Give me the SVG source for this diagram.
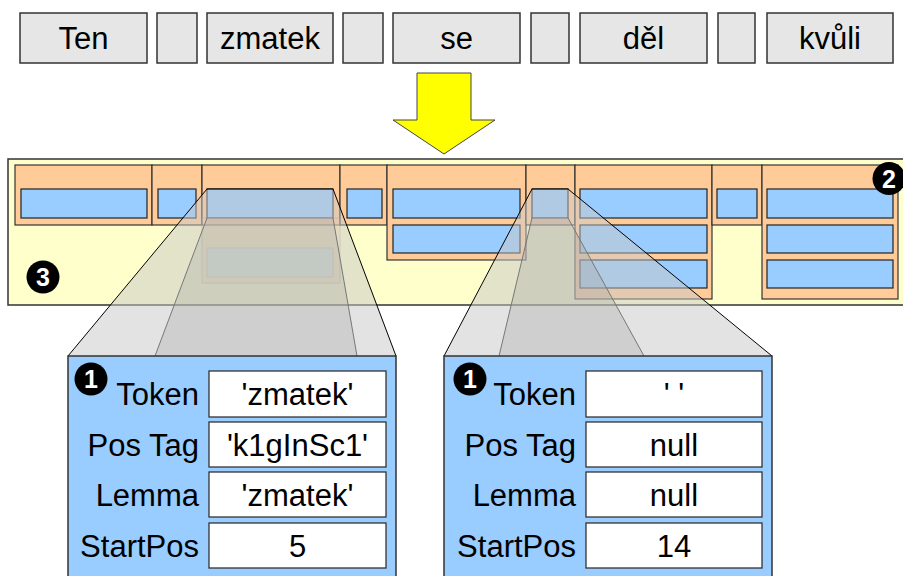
<svg xmlns="http://www.w3.org/2000/svg" width="903" height="576" viewBox="0 0 903 576">
<style>
.word{fill:#e6e6e6;stroke:#333;stroke-width:1.5}
.t{font-family:"Liberation Sans",Arial,sans-serif;font-size:31px;fill:#000}
.c{text-anchor:middle}
.r{text-anchor:end}
.band{fill:#ffffcc;stroke:#333;stroke-width:1.5}
.col{fill:#ffcc99;stroke:#333;stroke-width:1.2}
.blue{fill:#99ccff;stroke:#222;stroke-width:1.2}
.panel{fill:#99ccff;stroke:#333;stroke-width:1.5}
.val{fill:#fff;stroke:#333;stroke-width:1.3}
.badge{fill:#000}
.bt{font-family:"Liberation Sans",Arial,sans-serif;font-size:25px;font-weight:bold;fill:#fff;text-anchor:middle}
.outer{fill:#c8c8c8;fill-opacity:0.5;stroke:none}
.inner{fill:#aaaaaa;fill-opacity:0.35;stroke:none}
.oe{stroke:#000;stroke-width:1;fill:none}
.ie{stroke:#777;stroke-width:1;fill:none}
</style>

<g id="words">
  <g id="w-ten"><rect class="word" x="20" y="13" width="127" height="50"/><text class="t c" x="83.5" y="49">Ten</text></g>
  <g id="w-sp1"><rect class="word" x="157" y="13" width="40" height="50"/></g>
  <g id="w-zmatek"><rect class="word" x="207" y="13" width="126" height="50"/><text class="t c" x="270" y="49">zmatek</text></g>
  <g id="w-sp2"><rect class="word" x="343" y="13" width="40" height="50"/></g>
  <g id="w-se"><rect class="word" x="393" y="13" width="127" height="50"/><text class="t c" x="456.5" y="49">se</text></g>
  <g id="w-sp3"><rect class="word" x="531" y="13" width="38" height="50"/></g>
  <g id="w-del"><rect class="word" x="580" y="13" width="127" height="50"/><text class="t c" x="643.5" y="49">děl</text></g>
  <g id="w-sp4"><rect class="word" x="718" y="13" width="37" height="50"/></g>
  <g id="w-kvuli"><rect class="word" x="767" y="13" width="126" height="50"/><text class="t c" x="830" y="49">kvůli</text></g>
</g>

<g id="arrow">
  <polygon points="417,73 471,73 471,120 495,120 444,154 393,120 417,120" fill="#ffff00" stroke="#444" stroke-width="1"/>
</g>

<g id="band">
  <rect class="band" x="8" y="159" width="900" height="146"/>
  <g id="col-ten"><rect class="col" x="15" y="165" width="137" height="60"/><rect class="blue" x="21" y="189" width="126" height="29"/></g>
  <g id="col-sp1"><rect class="col" x="152" y="165" width="50" height="60"/><rect class="blue" x="158" y="189" width="38" height="29"/></g>
  <g id="col-zmatek"><rect class="col" x="202" y="165" width="138" height="60"/><rect class="blue" x="207" y="189" width="126" height="29"/></g>
  <g id="col-sp2"><rect class="col" x="340" y="165" width="47" height="60"/><rect class="blue" x="347" y="189" width="35" height="29"/></g>
  <g id="col-se"><rect class="col" x="387" y="165" width="139" height="95"/><rect class="blue" x="393" y="189" width="127" height="29"/><rect class="blue" x="393" y="225" width="127" height="28"/></g>
  <g id="col-sp3"><rect class="col" x="526" y="165" width="49" height="60"/><rect class="blue" x="532" y="189" width="36" height="29"/></g>
  <g id="col-del"><rect class="col" x="575" y="165" width="137" height="134"/><rect class="blue" x="580" y="189" width="127" height="29"/><rect class="blue" x="580" y="225" width="127" height="28"/><rect class="blue" x="580" y="260" width="127" height="28"/></g>
  <g id="col-sp4"><rect class="col" x="712" y="165" width="50" height="60"/><rect class="blue" x="717" y="189" width="40" height="29"/></g>
  <g id="col-kvuli"><rect class="col" x="762" y="165" width="136" height="134"/><rect class="blue" x="767" y="189" width="126" height="29"/><rect class="blue" x="767" y="225" width="126" height="28"/><rect class="blue" x="767" y="260" width="126" height="28"/></g>
  <g id="ghost" opacity="0.35"><rect x="202" y="218" width="138" height="65" fill="#ffcc99" stroke="#888" stroke-width="1.2"/><rect x="207" y="248" width="126" height="29" fill="#99ccff" stroke="#888" stroke-width="1.2"/></g>
  <g id="badge2"><circle class="badge" cx="889" cy="178.5" r="16.5"/><text class="bt" x="889" y="187.5">2</text></g>
  <g id="badge3"><circle class="badge" cx="43" cy="277" r="16.5"/><text class="bt" x="43" y="286">3</text></g>
</g>

<g id="connectors">
  <polygon class="outer" points="207,189 333,189 396,356 68,356"/>
  <polygon class="inner" points="207,218 333,218 357,356 155,356"/>
  <line class="oe" x1="207" y1="189" x2="68" y2="356"/>
  <line class="oe" x1="333" y1="189" x2="396" y2="356"/>
  <line class="oe" x1="207" y1="189" x2="333" y2="189"/>
  <line class="ie" x1="207" y1="218" x2="155" y2="356"/>
  <line class="ie" x1="333" y1="218" x2="357" y2="356"/>
  <polygon class="outer" points="532,189 568,189 772,356 444,356"/>
  <polygon class="inner" points="532,218 568,218 644,356 499,356"/>
  <line class="oe" x1="532" y1="189" x2="444" y2="356"/>
  <line class="oe" x1="568" y1="189" x2="772" y2="356"/>
  <line class="oe" x1="532" y1="189" x2="568" y2="189"/>
  <line class="ie" x1="532" y1="218" x2="499" y2="356"/>
  <line class="ie" x1="568" y1="218" x2="644" y2="356"/>
</g>

<g id="panel1">
  <rect class="panel" x="68" y="356" width="328" height="240"/>
  <circle class="badge" cx="91" cy="379" r="16.5"/><text class="bt" x="91" y="388">1</text>
  <text class="t r" x="199" y="405">Token</text>
  <text class="t r" x="199" y="455.5">Pos Tag</text>
  <text class="t r" x="199" y="505.5">Lemma</text>
  <text class="t r" x="199" y="556.5">StartPos</text>
  <rect class="val" x="209" y="371" width="177" height="46"/>
  <rect class="val" x="209" y="422" width="177" height="45"/>
  <rect class="val" x="209" y="472" width="177" height="45"/>
  <rect class="val" x="209" y="523" width="177" height="45"/>
  <text class="t c" x="297.5" y="405">'zmatek'</text>
  <text class="t c" x="297.5" y="455.5">'k1gInSc1'</text>
  <text class="t c" x="297.5" y="505.5">'zmatek'</text>
  <text class="t c" x="297.5" y="556.5">5</text>
</g>

<g id="panel2">
  <rect class="panel" x="444" y="356" width="328" height="240"/>
  <circle class="badge" cx="470" cy="379" r="16.5"/><text class="bt" x="470" y="388">1</text>
  <text class="t r" x="576" y="405">Token</text>
  <text class="t r" x="576" y="455.5">Pos Tag</text>
  <text class="t r" x="576" y="505.5">Lemma</text>
  <text class="t r" x="576" y="556.5">StartPos</text>
  <rect class="val" x="586" y="371" width="176" height="46"/>
  <rect class="val" x="586" y="422" width="176" height="45"/>
  <rect class="val" x="586" y="472" width="176" height="45"/>
  <rect class="val" x="586" y="523" width="176" height="45"/>
  <text class="t c" x="674" y="405">' '</text>
  <text class="t c" x="674" y="455.5">null</text>
  <text class="t c" x="674" y="505.5">null</text>
  <text class="t c" x="674" y="556.5">14</text>
</g>
</svg>
